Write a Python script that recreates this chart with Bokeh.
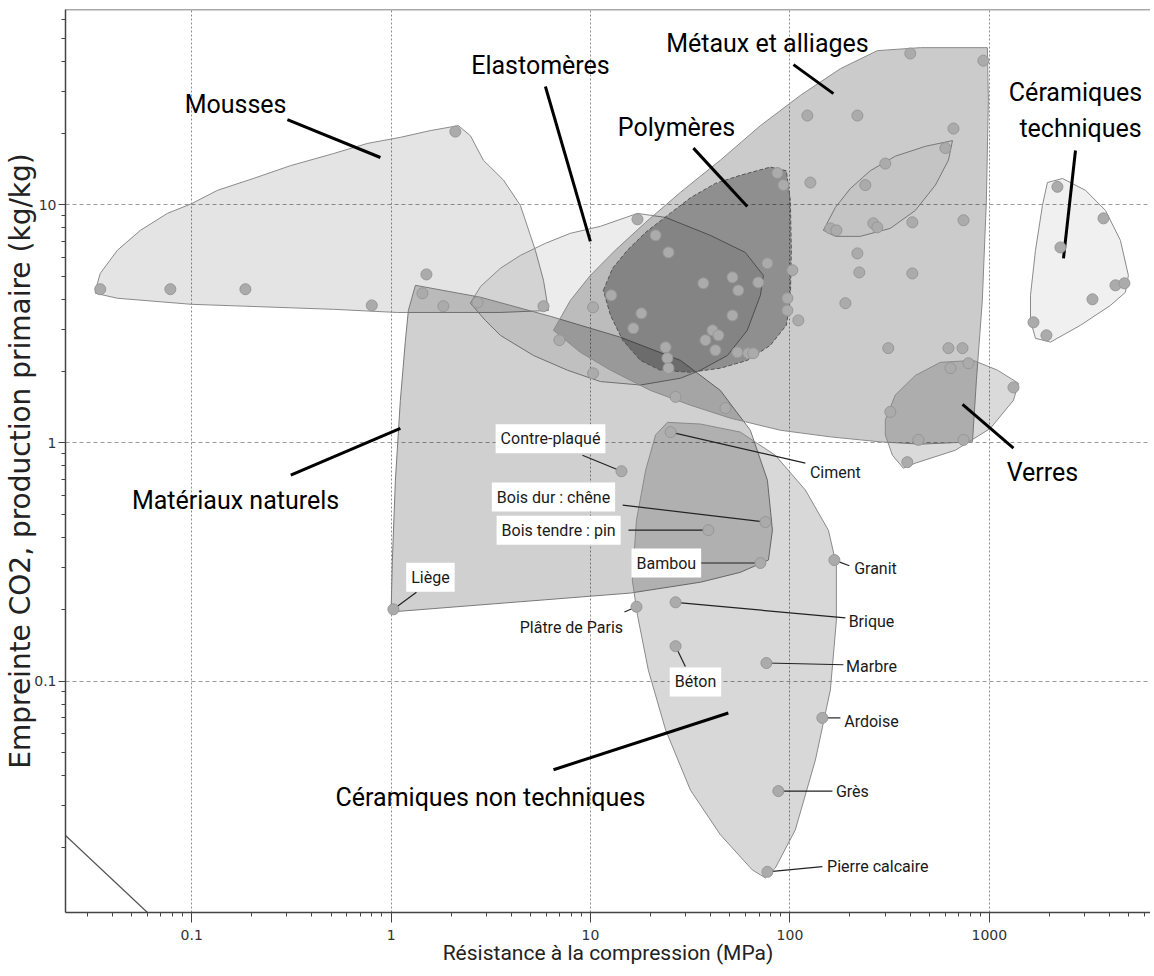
from bokeh.plotting import figure
from bokeh.models import Range1d, FixedTicker, Span
from bokeh.core.properties import value
from bokeh.embed import file_html
from bokeh.resources import INLINE

LABEL_FONT = "Roboto"

# ---------------- axes ----------------
x_ticks = [0.1, 1, 10, 100, 1000]
x_tick_labels = ["0.1", "1", "10", "100", "1000"]
y_ticks = [0.1, 1, 10]
y_tick_labels = ["0.1", "1", "10"]
x_limits = [0.0233, 6427]
y_limits = [0.01066, 66.1]

# ---------------- envelopes (compressive strength MPa, CO2 kg/kg) ----------------
mousses_x = [0.0329, 0.0348, 0.0424, 0.0553, 0.0755, 0.0997, 0.1346, 0.204, 0.313, 0.513, 0.760, 1.113,
             1.575, 2.176, 2.50, 2.90, 3.66, 4.45, 5.29, 5.81, 6.15, 3.53, 1.076, 0.513, 0.0997, 0.0424, 0.0329]
mousses_y = [4.37, 5.15, 6.44, 7.81, 9.20, 10.1, 11.5, 12.9, 14.6, 16.4, 18.1, 19.2,
             20.5, 21.5, 19.5, 15.4, 12.7, 9.94, 6.44, 4.82, 3.60, 3.53, 3.53, 3.64, 3.82, 4.05, 4.25]

elast_x = [2.50, 2.81, 3.53, 4.45, 5.94, 7.93, 11.2, 17.2, 23.8, 39.9, 59.7, 73.6, 71.1, 61.1, 48.6,
           35.6, 28.3, 17.8, 11.2, 7.66, 5.17, 3.53, 2.97]
elast_y = [3.86, 4.54, 5.41, 6.13, 6.89, 7.59, 8.12, 9.20, 8.85, 7.44, 6.31, 5.05, 4.17, 2.97, 2.33,
           2.02, 1.87, 1.75, 1.81, 2.02, 2.33, 2.83, 3.27]

natural_x = [1.324, 2.81, 6.30, 14.1, 28.3, 44.8, 63.3, 77.1, 81.7, 78.0, 56.4, 35.6, 15.8,
             1.00, 1.015, 1.051, 1.113, 1.18, 1.221]
natural_y = [4.59, 4.09, 3.40, 2.78, 2.22, 1.66, 1.13, 0.697, 0.430, 0.322, 0.286, 0.260, 0.234,
             0.195, 0.322, 0.697, 1.51, 2.70, 3.60]

cnt_x = [24.3, 35.6, 56.4, 84.5, 119.5, 155.9, 171.0, 171.0, 159.5, 134.2, 106.4, 84.5, 75.3, 64.7,
         44.8, 31.7, 23.8, 19.5, 17.2, 16.2, 17.0, 18.9, 21.2]
cnt_y = [1.22, 1.20, 1.11, 0.887, 0.634, 0.430, 0.307, 0.180, 0.0917, 0.0466, 0.0237, 0.0164, 0.0149,
         0.0161, 0.0226, 0.0348, 0.0623, 0.111, 0.189, 0.265, 0.474, 0.768, 1.08]

metal_x = [6.52, 7.93, 9.98, 13.3, 18.9, 28.3, 44.8, 71.1, 112.8, 179.1, 274.2, 450.9, 977.2, 988.6,
           966.0, 922.0, 861.0, 822.8, 450.9, 284.0, 159.5, 89.6, 50.3, 31.7, 20.0, 12.6, 8.90]
metal_y = [2.97, 3.97, 5.05, 6.44, 8.44, 11.3, 15.4, 21.5, 28.8, 37.3, 44.4, 45.7, 45.7, 27.4,
           10.4, 3.97, 1.83, 1.01, 0.988, 1.01, 1.06, 1.13, 1.27, 1.44, 1.66, 2.02, 2.40]

lens_x = [147.1, 169.0, 200.8, 252.9, 337.5, 477.5, 653.2, 623.5, 536.4, 425.5, 318.7, 225.4, 169.0]
lens_y = [7.81, 9.75, 11.7, 13.9, 16.0, 17.6, 18.6, 15.4, 12.1, 9.47, 7.96, 7.37, 7.37]

poly_x = [11.6, 12.9, 15.3, 18.9, 24.3, 31.7, 42.3, 56.4, 79.8, 95.9, 100.5, 101.6, 100.5, 95.9,
          79.8, 61.1, 44.8, 31.7, 22.4, 17.8, 14.5, 12.6]
poly_y = [4.37, 5.41, 6.44, 7.66, 9.02, 10.7, 12.3, 13.3, 14.4, 13.9, 10.4, 6.44, 3.97, 3.12,
          2.57, 2.22, 2.06, 1.98, 2.02, 2.22, 2.70, 3.43]

verres_x = [300.8, 337.5, 425.5, 568.3, 832.3, 1099, 1400, 1321, 1011, 676.1, 425.5, 370.3, 326.6, 300.8]
verres_y = [1.25, 1.59, 1.92, 2.18, 2.22, 2.02, 1.78, 1.51, 1.15, 0.932, 0.822, 0.783, 0.887, 1.08]

ctech_x = [1954, 2326, 3035, 3822, 4541, 4979, 4810, 4048, 2866, 2024, 1703, 1608, 1608, 1703, 1846]
ctech_y = [12.4, 12.9, 11.5, 9.47, 7.09, 5.05, 4.29, 3.78, 3.12, 2.65, 2.75, 3.27, 4.17, 6.44, 9.94]

# ---------------- material points ----------------
pts_x = [0.0348, 0.0782, 0.186, 0.800, 1.504, 1.436, 1.829, 2.71, 2.10, 5.81, 10.3,
         17.2, 21.2, 24.6, 36.8, 12.7, 51.5, 55.1, 69.4, 97.1, 97.1, 110.2, 18.0, 16.4, 51.5, 40.9,
         43.8, 37.7, 42.3, 54.5, 61.8, 65.5, 23.8, 24.3, 24.6, 6.98, 10.3, 26.7, 47.5, 86.5, 92.7,
         77.1, 102.8,
         401.5, 933.3, 122.3, 217.9, 660.8, 601.8, 300.8, 126.6, 238.8, 159.5, 171.0, 261.8, 274.2,
         411.0, 741.9, 217.9, 222.8, 411.0, 189.7, 311.3, 623.5, 733.4,
         318.7, 638.1, 785.7, 1321, 440.6, 741.9, 387.8,
         2194, 3735, 2272, 4289, 4755, 3289, 1664, 1933]
pts_y = [4.42, 4.42, 4.42, 3.78, 5.10, 4.25, 3.75, 3.89, 20.3, 3.75, 3.71,
         8.69, 7.44, 6.31, 4.68, 4.17, 4.96, 4.37, 4.72, 4.05, 3.60, 3.27, 3.50, 3.03, 3.43, 2.97,
         2.83, 2.70, 2.45, 2.40, 2.38, 2.38, 2.52, 2.27, 2.06, 2.70, 1.96, 1.56, 1.40, 13.6, 12.1,
         5.68, 5.31,
         43.2, 40.3, 23.7, 23.7, 20.9, 17.3, 14.9, 12.4, 12.1, 7.96, 7.81, 8.36, 8.04,
         8.44, 8.61, 6.25, 5.20, 5.15, 3.86, 2.50, 2.50, 2.50,
         1.35, 2.06, 2.16, 1.71, 1.03, 1.03, 0.830,
         11.9, 8.77, 6.62, 4.59, 4.68, 4.01, 3.21, 2.83]

# named materials
named = ["Contre-plaqué", "Bois dur : chêne", "Bois tendre : pin", "Bambou", "Liège", "Ciment",
         "Plâtre de Paris", "Brique", "Béton", "Granit", "Marbre", "Ardoise", "Grès", "Pierre calcaire"]
named_x = [14.3, 75.3, 39.0, 71.1, 1.027, 25.2, 17.0, 26.7, 26.7, 167.1, 76.2, 145.4, 87.5, 77.1]
named_y = [0.760, 0.465, 0.430, 0.313, 0.200, 1.11, 0.205, 0.214, 0.140, 0.322, 0.119, 0.0700, 0.0345, 0.0158]
named_lx = [6.30, 6.52, 6.92, 24.0, 1.575, 169.0, 8.02, 256.4, 33.6, 268.5, 256.4, 256.4, 205.6, 275.6]
named_ly = [1.04, 0.592, 0.430, 0.313, 0.273, 0.753, 0.167, 0.177, 0.0991, 0.298, 0.115, 0.0673, 0.0345, 0.0167]
named_boxed = [True, True, True, True, True, False, False, False, True, False, False, False, False, False]
lead_x0 = [9.11, 14.5, 15.5, 35.6, 1.34, 119.5, 14.8, 189.7, 29.9, 198.6, 185.4, 179.1, 163.3, 145.4]
lead_y0 = [0.887, 0.548, 0.430, 0.313, 0.236, 0.822, 0.195, 0.184, 0.115, 0.305, 0.117, 0.0700, 0.0345, 0.0166]

# family labels
fam_text = ["Mousses", "Elastomères", "Polymères", "Métaux et alliages", "Céramiques", "techniques",
            "Verres", "Matériaux naturels", "Céramiques non techniques"]
fam_x = [0.166, 5.61, 27.0, 77.1, 2703, 2866, 1846, 0.166, 3.15]
fam_y = [26.4, 38.5, 21.1, 47.6, 29.6, 20.9, 0.753, 0.575, 0.0323]
fam_lx0 = [0.302, 5.94, 32.8, 104.2, 2703, 1321, 0.314, 6.52]
fam_ly0 = [22.8, 31.4, 17.3, 38.8, 16.9, 0.950, 0.732, 0.0424]
fam_lx1 = [0.884, 9.98, 61.1, 165.2, 2353, 733.4, 1.113, 49.1]
fam_ly1 = [15.8, 7.02, 9.84, 29.3, 5.96, 1.45, 1.15, 0.0734]

guide_x = [0.0233, 0.0600]
guide_y = [0.02244, 0.01066]

x_title = "Résistance à la compression (MPa)"
y_title = "Empreinte CO2, production primaire (kg/kg)"

# ---------------- figure ----------------
p = figure(frame_width=1085, frame_height=903, x_axis_type="log", y_axis_type="log",
           x_range=Range1d(*x_limits), y_range=Range1d(*y_limits),
           output_backend="svg", toolbar_location=None,
           min_border_left=65, min_border_right=0, min_border_top=9, min_border_bottom=0)
p.outline_line_color = None
p.background_fill_color = "white"
p.add_layout(Span(location=y_limits[1], dimension="width", line_color="#555555", line_width=1.5))

p.xaxis.ticker = FixedTicker(ticks=x_ticks,
                             minor_ticks=[m * 10.0 ** e for e in range(-2, 4) for m in range(2, 10)])
p.yaxis.ticker = FixedTicker(ticks=y_ticks,
                             minor_ticks=[m * 10.0 ** e for e in range(-2, 2) for m in range(2, 10)])
p.xaxis.major_label_overrides = dict(zip(x_ticks, x_tick_labels))
p.yaxis.major_label_overrides = dict(zip(y_ticks, y_tick_labels))

for ax in (p.xaxis, p.yaxis):
    ax.axis_line_color = "#444444"
    ax.axis_line_width = 1.5
    ax.major_tick_line_color = "#444444"
    ax.minor_tick_line_color = "#444444"
    ax.major_tick_in = 0
    ax.minor_tick_in = 0
    ax.minor_tick_out = 4
    ax.major_label_text_font = "DejaVu Sans"
    ax.major_label_text_font_size = "14px"
    ax.major_label_text_color = "#333333"
p.xaxis.major_tick_out = 10
p.xaxis.major_label_standoff = 7
p.yaxis.major_tick_out = 7
p.yaxis.major_label_standoff = 2

p.xaxis.axis_label = x_title
p.xaxis.axis_label_text_font = LABEL_FONT
p.xaxis.axis_label_text_font_size = "21px"
p.xaxis.axis_label_text_font_style = "normal"
p.xaxis.axis_label_text_color = "#222222"
p.xaxis.axis_label_standoff = -2

p.yaxis.axis_label = y_title
p.yaxis.axis_label_text_font = "DejaVu Sans"
p.yaxis.axis_label_text_font_size = "28px"
p.yaxis.axis_label_text_font_style = "normal"
p.yaxis.axis_label_text_color = "#222222"
p.yaxis.axis_label_standoff = -6

p.xgrid.grid_line_color = "#8c8c8c"
p.xgrid.grid_line_dash = "2 2"
p.ygrid.grid_line_color = "#9a9a9a"
p.ygrid.grid_line_dash = "4 3"

# envelopes: black fill with alpha -> multiplicative darkening where they overlap
envelopes = [
    (mousses_x, mousses_y, 0.106, "#8a8a8a", "solid"),
    (elast_x, elast_y, 0.075, "#8a8a8a", "solid"),
    (natural_x, natural_y, 0.184, "#7a7a7a", "solid"),
    (cnt_x, cnt_y, 0.153, "#8a8a8a", "solid"),
    (metal_x, metal_y, 0.204, "#8a8a8a", "solid"),
    (lens_x, lens_y, 0.03, "#777777", "solid"),
    (poly_x, poly_y, 0.296, "#555555", "4 2"),
    (verres_x, verres_y, 0.145, "#8a8a8a", "solid"),
    (ctech_x, ctech_y, 0.06, "#8a8a8a", "solid"),
]
for ex, ey, a, lc, dash in envelopes:
    p.patch(ex, ey, fill_color="black", fill_alpha=a, line_color=lc, line_width=1, line_dash=dash)

p.line(guide_x, guide_y, line_color="#555555", line_width=1.2)

# leader lines
p.segment(x0=lead_x0, y0=lead_y0, x1=named_x, y1=named_y, line_color="#222222", line_width=1.2)
p.segment(x0=fam_lx0, y0=fam_ly0, x1=fam_lx1, y1=fam_ly1, line_color="black", line_width=3)

# points
p.scatter(pts_x + named_x, pts_y + named_y, size=11, fill_color="#ababab", line_color="#979797",
          line_width=1)

# small labels
bx = [v for v, b in zip(named_lx, named_boxed) if b]
by = [v for v, b in zip(named_ly, named_boxed) if b]
bt = [v for v, b in zip(named, named_boxed) if b]
nx = [v for v, b in zip(named_lx, named_boxed) if not b]
ny = [v for v, b in zip(named_ly, named_boxed) if not b]
nt = [v for v, b in zip(named, named_boxed) if not b]
p.text(x=bx, y=by, text=bt, text_font=value(LABEL_FONT), text_font_size="16px", text_color="#1a1a1a",
       text_align="center", text_baseline="middle", background_fill_color="white", padding=5)
p.text(x=nx, y=ny, text=nt, text_font=value(LABEL_FONT), text_font_size="16px", text_color="#1a1a1a",
       text_align="center", text_baseline="middle")

# family labels
p.text(x=fam_x, y=fam_y, text=fam_text, text_font=value(LABEL_FONT), text_font_size="25px",
       text_color="black", text_align="center", text_baseline="middle")

open("out.html", "w").write(file_html(p, INLINE))
